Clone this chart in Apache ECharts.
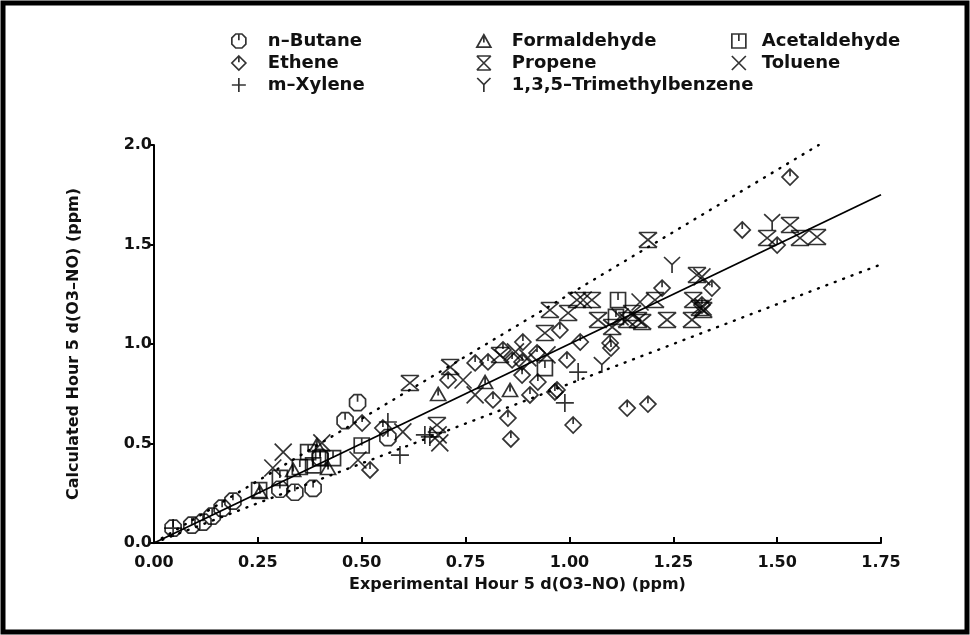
<!DOCTYPE html>
<html>
<head>
<meta charset="utf-8">
<script src="https://cdn.jsdelivr.net/npm/echarts@6/dist/echarts.min.js"></script>
<style>
  html, body { margin: 0; padding: 0; background: #fff; }
  #chart { width: 970px; height: 635px; }
</style>
</head>
<body>
<div id="chart"></div>
<script>
// values: [experimental, calculated] in ppm
const nButane = [[0.046, 0.075], [0.091, 0.09], [0.118, 0.105], [0.14, 0.135], [0.164, 0.175], [0.19, 0.21],
  [0.303, 0.27], [0.339, 0.255], [0.383, 0.275], [0.46, 0.615], [0.49, 0.705], [0.563, 0.53], [0.40, 0.43]];
const ethene = [[0.501, 0.603], [0.52, 0.367], [0.551, 0.578], [0.773, 0.905], [0.804, 0.91], [0.84, 0.97],
  [0.862, 0.92], [0.886, 0.91], [0.888, 1.01], [0.886, 0.844], [0.922, 0.955], [0.924, 0.809], [0.905, 0.744],
  [0.816, 0.719], [0.852, 0.628], [0.859, 0.523], [0.708, 0.819], [0.965, 0.759], [0.977, 1.07], [0.994, 0.92],
  [0.97, 0.769], [1.009, 0.593], [1.026, 1.01], [1.098, 1.005], [1.10, 0.98], [1.139, 0.678], [1.189, 0.698],
  [1.223, 1.281], [1.343, 1.281], [1.319, 1.196], [1.531, 1.839], [1.416, 1.573], [1.50, 1.497]];
const formaldehyde = [[0.684, 0.749], [0.857, 0.769], [0.797, 0.809], [0.392, 0.492], [0.419, 0.377],
  [0.255, 0.256], [0.335, 0.367]];
const acetaldehyde = [[0.253, 0.266], [0.303, 0.327], [0.371, 0.457], [0.40, 0.427], [0.431, 0.427],
  [0.50, 0.49], [0.941, 0.879], [1.117, 1.221], [1.112, 1.136], [0.351, 0.382], [0.383, 0.39]];
const propene = [[0.616, 0.804], [0.713, 0.884], [0.953, 1.171], [0.941, 1.055], [0.833, 0.945], [0.997, 1.156],
  [1.018, 1.221], [1.054, 1.221], [1.069, 1.121], [1.151, 1.156], [1.103, 1.085], [1.175, 1.111], [1.235, 1.121],
  [1.295, 1.121], [1.298, 1.221], [1.322, 1.171], [1.206, 1.221], [1.189, 1.523], [1.307, 1.347], [1.476, 1.533],
  [1.531, 1.598], [1.555, 1.533], [1.596, 1.538], [1.165, 1.121], [0.681, 0.593], [1.314, 1.181], [1.139, 1.121]];
const toluene = [[0.311, 0.457], [0.286, 0.377], [0.404, 0.503], [0.491, 0.417], [0.599, 0.558], [0.684, 0.543],
  [0.688, 0.503], [0.773, 0.744], [0.744, 0.819], [0.946, 0.945], [1.033, 1.221], [1.17, 1.211], [1.122, 1.136],
  [1.319, 1.337], [1.322, 1.186], [0.87, 0.96], [0.90, 0.93]];
const mXylene = [[0.563, 0.608], [0.592, 0.442], [0.652, 0.543], [0.664, 0.533], [1.021, 0.859], [0.989, 0.704],
  [0.046, 0.075]];
const trimethylbenzene = [[1.078, 0.894], [1.247, 1.397], [1.488, 1.613]];

// 1:1 line and the +25% / -20% bands
const fitLine = [[0, 0], [1.75, 1.75]];
const upperBand = [[0, 0], [1.6, 2.0]];
const lowerBand = [[0, 0], [1.75, 1.4]];

const xTicks = { min: 0, max: 1.75, step: 0.25 };
const yTicks = { min: 0, max: 2.0, step: 0.5 };

// plotter style marker shapes
const sym = {
  circle: 'path://M6,1 L14,1 L19,6 L19,14 L14,19 L6,19 L1,14 L1,6 Z M10,1 L10,9',
  diamond: 'path://M10,1 L19,10 L10,19 L1,10 Z M10,1 L10,9',
  triangle: 'path://M10,1 L19,17 L1,17 Z M10,1 L10,11',
  square: 'path://M1,1 L19,1 L19,19 L1,19 Z M10,1 L10,10',
  hourglass: 'path://M1,1 L19,1 M1,19 L19,19 M1,1 L19,19 M19,1 L1,19',
  cross: 'path://M1,1 L19,19 M19,1 L1,19',
  plus: 'path://M10,0 L10,20 M0,10 L20,10',
  ypsilon: 'path://M1,1 L10,10 L19,1 M10,10 L10,20'
};

const series = [
  { name: 'n–Butane', data: nButane, symbol: sym.circle, symbolSize: 16 },
  { name: 'Ethene', data: ethene, symbol: sym.diamond, symbolSize: 16 },
  { name: 'm–Xylene', data: mXylene, symbol: sym.plus, symbolSize: 18 },
  { name: 'Formaldehyde', data: formaldehyde, symbol: sym.triangle, symbolSize: [15, 13] },
  { name: 'Propene', data: propene, symbol: sym.hourglass, symbolSize: [18, 15] },
  { name: '1,3,5–Trimethylbenzene', data: trimethylbenzene, symbol: sym.ypsilon, symbolSize: 16 },
  { name: 'Acetaldehyde', data: acetaldehyde, symbol: sym.square, symbolSize: 15 },
  { name: 'Toluene', data: toluene, symbol: sym.cross, symbolSize: 17 }
].map(s => ({
  type: 'scatter',
  name: s.name,
  data: s.data,
  symbol: s.symbol,
  symbolSize: s.symbolSize,
  itemStyle: { color: 'transparent', borderColor: '#000', borderWidth: 1.7 },
  emphasis: { disabled: true },
  z: 3
}));

function refLine(data, dotted) {
  return {
    type: 'line',
    data: data,
    symbol: 'none',
    silent: true,
    z: 2,
    lineStyle: dotted
      ? { color: '#000', width: 2.4, type: [1, 8], cap: 'round' }
      : { color: '#000', width: 1.8 }
  };
}

const font = 'DejaVu Sans';
function legendCol(left, names, pad) {
  return {
    orient: 'vertical',
    left: left,
    top: 27,
    itemWidth: 14,
    itemHeight: 14,
    itemGap: 4,
    selectedMode: false,
    data: names.map(n => ({ name: n, icon: series.find(s => s.name === n).symbol })),
    itemStyle: { color: 'transparent', borderColor: '#000', borderWidth: 1.7 },
    textStyle: {
      fontFamily: font, fontSize: 18, fontWeight: 'bold', color: '#111',
      padding: [0, 0, 0, pad]
    }
  };
}

const chart = echarts.init(document.getElementById('chart'));
chart.setOption({
  animation: false,
  backgroundColor: '#fff',
  graphic: [{
    type: 'rect',
    shape: { x: 3, y: 3, width: 964, height: 629 },
    style: { fill: 'none', stroke: '#000', lineWidth: 5 },
    silent: true
  }],
  legend: [
    legendCol(226, ['n–Butane', 'Ethene', 'm–Xylene'], 17),
    legendCol(471, ['Formaldehyde', 'Propene', '1,3,5–Trimethylbenzene'], 16),
    legendCol(726, ['Acetaldehyde', 'Toluene'], 11)
  ],
  grid: { left: 154, right: 89, top: 145, bottom: 92 },
  xAxis: {
    type: 'value',
    min: xTicks.min, max: xTicks.max, interval: xTicks.step,
    name: 'Experimental Hour 5 d(O3–NO) (ppm)',
    nameLocation: 'middle', nameGap: 34,
    nameTextStyle: { fontFamily: font, fontSize: 16, fontWeight: 'bold', color: '#111' },
    axisLine: { lineStyle: { color: '#000', width: 2 } },
    axisTick: { inside: true, length: 6, lineStyle: { color: '#000', width: 2 } },
    axisLabel: {
      fontFamily: font, fontSize: 16, fontWeight: 'bold', color: '#111', margin: 12,
      formatter: v => v.toFixed(2)
    },
    splitLine: { show: false }
  },
  yAxis: {
    type: 'value',
    min: yTicks.min, max: yTicks.max, interval: yTicks.step,
    name: 'Calculated Hour 5 d(O3–NO) (ppm)',
    nameLocation: 'middle', nameGap: 72,
    nameTextStyle: { fontFamily: font, fontSize: 16, fontWeight: 'bold', color: '#111' },
    axisLine: { show: true, lineStyle: { color: '#000', width: 2 } },
    axisTick: { show: true, inside: false, length: 6, lineStyle: { color: '#000', width: 2 } },
    axisLabel: {
      fontFamily: font, fontSize: 16, fontWeight: 'bold', color: '#111', margin: 2,
      formatter: v => v.toFixed(1)
    },
    splitLine: { show: false }
  },
  series: [refLine(fitLine, false), refLine(upperBand, true), refLine(lowerBand, true)].concat(series)
});
</script>
</body>
</html>
